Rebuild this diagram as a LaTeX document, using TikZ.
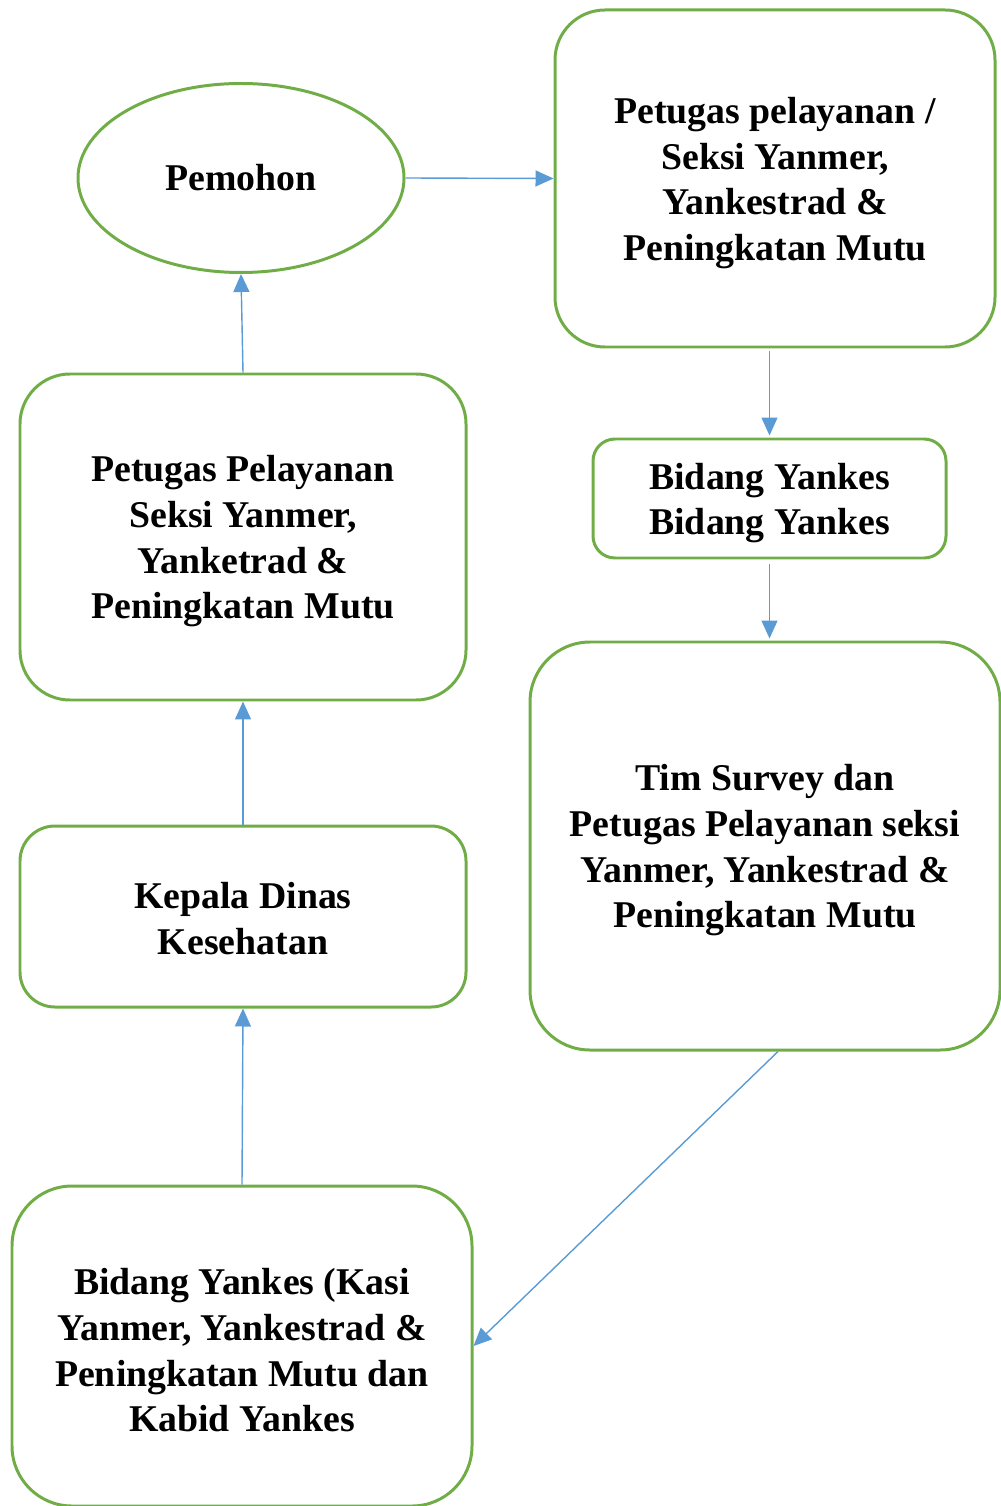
\documentclass[tikz,border=0pt]{standalone}
\usepackage{fontspec}
\setmainfont{Liberation Serif}
\usetikzlibrary{positioning}
\usetikzlibrary{shapes.geometric}
\usetikzlibrary{arrows.meta}
\definecolor{boxgreen}{RGB}{112,173,71}
\definecolor{arrowblue}{RGB}{91,155,213}
\newcommand{\lift}{\rule{0pt}{20pt}}

\begin{document}
\begin{tikzpicture}
			[box/.style={draw=boxgreen,line width=1.7pt,align=center,font=\fontsize{21.5}{26}\selectfont\bfseries,inner sep=0pt},
			 flow/.style={draw=arrowblue,line width=0.8pt,-{Triangle[length=3.6mm,width=3.2mm]}}]

			\useasboundingbox (0,0) rectangle (20,-30.12);

			\node[box,ellipse,minimum width=6.52cm,minimum height=3.78cm] (pemohon) at (4.82,-3.56) {Pemohon};
			\node[box,rectangle,rounded corners=1cm,minimum width=8.8cm,minimum height=6.74cm] (petugasA) at (15.5,-3.57) {\lift Petugas pelayanan /\\Seksi Yanmer,\\Yankestrad \&\\Peningkatan Mutu};
			\node[box,rectangle,rounded corners=0.44cm,minimum width=7.06cm,minimum height=2.38cm] (bidang) at (15.39,-9.97) {\lift Bidang Yankes\\Bidang Yankes};
			\node[box,rectangle,rounded corners=1.2cm,minimum width=9.4cm,minimum height=8.16cm] (survey) at (15.3,-16.92) {\lift Tim Survey dan\\Petugas Pelayanan seksi\\Yanmer, Yankestrad \&\\Peningkatan Mutu};

			\node[box,rectangle,rounded corners=1cm,minimum width=8.92cm,minimum height=6.52cm] (petugasB) at (4.86,-10.74) {\lift Petugas Pelayanan\\Seksi Yanmer,\\Yanketrad \&\\Peningkatan Mutu};
			\node[box,rectangle,rounded corners=0.7cm,minimum width=8.92cm,minimum height=3.62cm] (kepala) at (4.86,-18.33) {\rule{0pt}{17pt}Kepala Dinas\\Kesehatan};
			\node[box,rectangle,rounded corners=1.2cm,minimum width=9.2cm,minimum height=6.4cm] (kasi) at (4.84,-26.92) {\lift Bidang Yankes (Kasi\\Yanmer, Yankestrad \&\\Peningkatan Mutu dan\\Kabid Yankes};

			\draw[flow] (pemohon.east) -- (petugasA.west);
			\draw[flow] ([yshift=-0.06cm]petugasA.south -| bidang.north) -- ([yshift=0.04cm]bidang.north);
			\draw[flow] ([yshift=-0.1cm]bidang.south) -- ([yshift=0.04cm]bidang.south |- survey.north);
			\draw[flow] ([xshift=0.26cm]survey.south) -- (kasi.east);
			\draw[flow] (kasi.north) -- (kepala.south);
			\draw[flow] (kepala.north) -- (petugasB.south);
			\draw[flow] (petugasB.north) -- (pemohon.south);
		\end{tikzpicture}
\end{document}
